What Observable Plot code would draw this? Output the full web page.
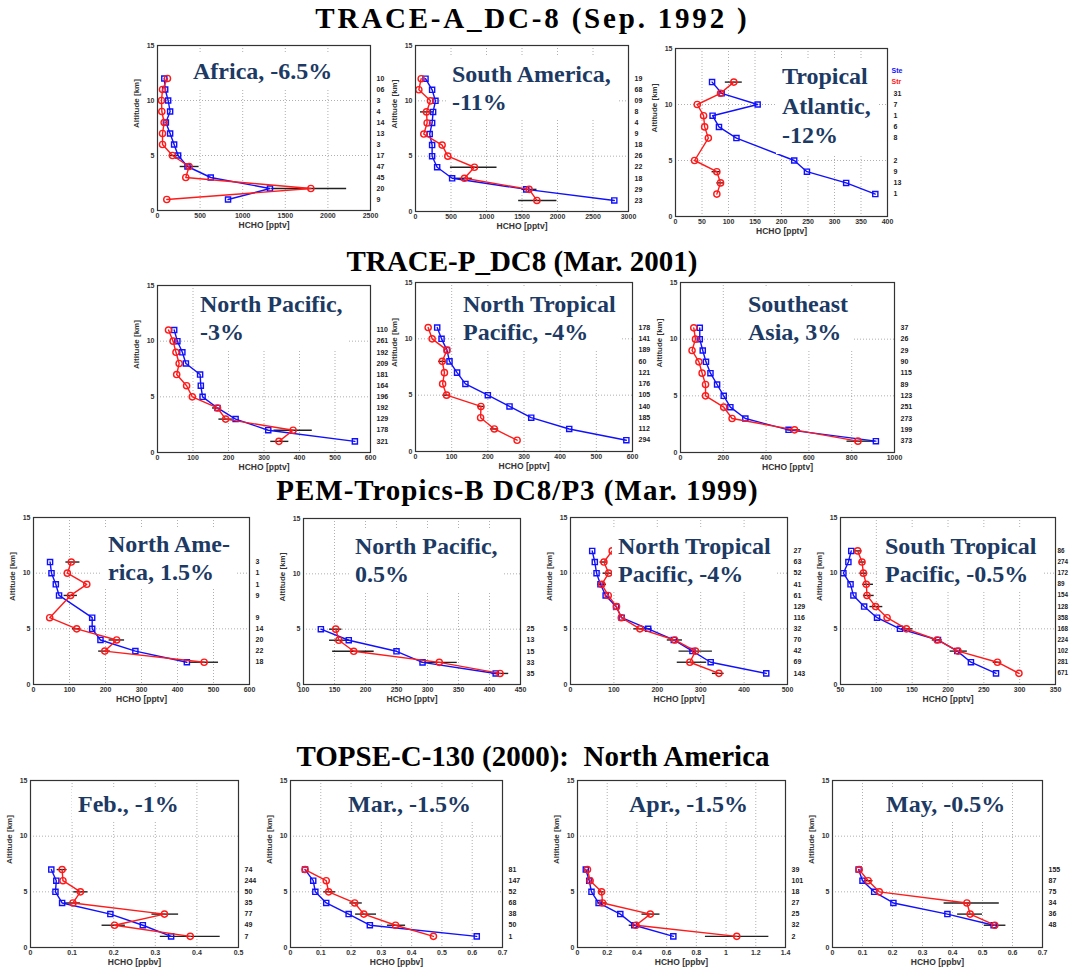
<!DOCTYPE html>
<html><head><meta charset="utf-8">
<script src="https://cdn.jsdelivr.net/npm/d3@7"></script>
<script src="https://cdn.jsdelivr.net/npm/@observablehq/plot@0.6"></script>
<style>
body{margin:0;background:#fff;overflow:hidden}
#page{position:relative;width:1069px;height:968px;overflow:hidden;background:#fff}
.panel{position:absolute}
.ttl{position:absolute;font:bold 24px/28px 'Liberation Serif','Times New Roman',serif;color:#1c3a63;background:#fff;padding:3px 6px;white-space:nowrap}
.head{position:absolute;left:0;width:1069px;text-align:center;font:bold 29px/29px 'Liberation Serif','Times New Roman',serif;color:#000;white-space:pre}
</style></head>
<body><div id="page"></div>
<script>
// ---------------- DATA ----------------
// Row 1: TRACE-A DC-8
const afAlt  = [12,11,10,9,8,7,6,5,4,3,2,1];
const afBlue = [80,90,125,148,98,148,195,242,352,625,1320,828];
const afRed  = [117,59,47,51,78,59,59,176,371,332,1800,109];
const afN    = ["10","06","3","4","14","13","3","17","47","45","20","9"];
const afErr  = [[5,137,254],[4,266,488],[2,1340,2220]];

const saAlt  = [12,11,10,9,8,7,6,5,4,3,2,1];
const saBlue = [141,234,281,248,234,200,234,234,305,516,1560,2800];
const saRed  = [80,47,211,155,164,117,375,455,830,689,1600,1710];
const saN    = ["19","68","09","8","4","9","18","26","22","18","29","23"];
const saErr  = [[9,70,258],[4,492,1148],[3,539,800],[2,1500,1711],[1,1453,1992]];

const taAlt  = [12,11,10,9,8,7,5,4,3,2];
const taBlue = [69,87,155,70,82,115,224,248,322,377];
const taRed  = [110,85,41,53,55,62,36,78,85,78];
const taNAlt = [11,10,9,8,7,5,4,3,2];
const taN    = ["31","7","1","6","8","2","9","13","1"];
const taErr  = [[12,94,126],[4,69,85],[3,78,92]];

// Row 2: TRACE-P DC8
const npAlt  = [11,10,9,8,7,6,5,4,3,2,1];
const npBlue = [47,56,70,80,120,122,127,169,220,312,556];
const npRed  = [31,44,52,61,54,82,98,169,192,382,342];
const npN    = ["110","261","192","209","181","164","196","192","129","178","321"];
const npErr  = [[4,155,173],[3,173,211],[2,328,436],[1,319,370]];

const ntAlt  = [11,10,9,8,7,6,5,4,3,2,1];
const ntBlue = [60,72,87,94,115,138,200,260,320,425,583];
const ntRed  = [35,46,87,74,80,75,86,181,180,218,281];
const ntN    = ["178","141","189","60","121","176","105","140","185","112","294"];
const ntErr  = [[8,64,83],[5,76,96],[4,172,190],[2,207,230]];

const seAlt  = [11,10,9,8,7,6,5,4,3,2,1];
const seBlue = [90,90,104,119,140,171,202,233,303,505,913];
const seRed  = [62,70,54,86,101,117,117,202,241,533,829];
const seN    = ["37","26","29","90","115","89","123","251","273","199","373"];
const seErr  = [[2,498,560],[1,778,910]];

// Row 3: PEM-Tropics-B DC8/P3
const naAlt  = [11,10,9,8,6,5,4,3,2];
const naBlue = [46,50,62,71,163,163,186,283,426];
const naRed  = [105,94,148,103,45,120,231,198,474];
const naN    = ["3","1","1","9","9","14","20","22","18"];
const naErr  = [[11,90,129],[8,85,122],[5,108,132],[4,210,253],[3,181,214],[2,436,514]];

const pnAlt  = [5,4,3,2,1];
const pnBlue = [128,173,250,292,410];
const pnRed  = [152,157,181,319,417];
const pnN    = ["25","13","15","33","35"];
const pnErr  = [[5,142,162],[4,142,175],[3,147,214],[2,291,348],[1,404,431]];

const ptAlt  = [12,11,10,9,8,7,6,5,4,3,2,1];
const ptBlue = [50,56,60,69,81,105,118,179,238,281,323,451];
const ptRed  = [96,77,88,72,87,106,117,160,240,288,275,342];
const ptN    = ["27","63","52","41","61","129","116","32","70","42","69","143"];
const ptErr  = [[11,68,85],[10,75,100],[9,63,83],[5,146,188],[4,223,258],[3,250,327],[2,246,314],[1,327,354]];

const stAlt  = [12,11,10,9,8,7,6,5,4,3,2,1];
const stBlue = [65,61,54,64,68,83,101,133,186,213,232,267];
const stRed  = [74,80,82,86,87,99,115,142,185,214,269,299];
const stN    = ["86","274","172","89","154","128","358","168","224","102","281","671"];
const stErr  = [[12,69,80],[11,76,85],[10,77,87],[9,81,96],[8,82,97],[7,91,109],[5,135,151],[4,178,192],[3,203,227],[2,263,275]];

// Row 4: TOPSE-C-130 North America
const feAlt  = [7,6,5,4,3,2,1];
const feBlue = [0.050,0.062,0.060,0.076,0.192,0.270,0.338];
const feRed  = [0.076,0.078,0.120,0.102,0.322,0.202,0.384];
const feN    = ["74","244","50","35","77","49","7"];
const feErr  = [[7,0.064,0.088],[5,0.104,0.138],[4,0.084,0.120],[3,0.292,0.356],[2,0.172,0.228],[1,0.312,0.456]];

const maAlt  = [7,6,5,4,3,2,1];
const maBlue = [0.048,0.075,0.082,0.118,0.192,0.262,0.615];
const maRed  = [0.048,0.118,0.126,0.212,0.242,0.347,0.472];
const maN    = ["81","147","52","68","38","50","1"];
const maErr  = [[5,0.110,0.149],[4,0.196,0.237],[3,0.215,0.284],[2,0.320,0.380]];

const apAlt  = [7,6,5,4,3,2,1];
const apBlue = [0.056,0.079,0.094,0.142,0.288,0.382,0.645];
const apRed  = [0.067,0.085,0.162,0.169,0.490,0.393,1.072];
const apN    = ["39","101","18","27","25","32","2"];
const apErr  = [[5,0.14,0.18],[4,0.135,0.2],[3,0.434,0.555],[2,0.348,0.420],[1,0.861,1.288]];

const myAlt  = [7,6,5,4,3,2];
const myBlue = [0.087,0.100,0.139,0.203,0.383,0.537];
const myRed  = [0.089,0.119,0.156,0.448,0.459,0.541];
const myN    = ["155","87","75","34","36","48"];
const myErr  = [[6,0.105,0.135],[4,0.372,0.556],[3,0.417,0.500],[2,0.506,0.578]];

// tick labels
const altTicks = [0,5,10,15];
const tA1 = [0,500,1000,1500,2000,2500];
const tA2 = [0,500,1000,1500,2000,2500,3000];
const tA3 = [0,50,100,150,200,250,300,350,400];
const t600 = [0,100,200,300,400,500,600];
const t1000 = [0,200,400,600,800,1000];
const t450 = [100,150,200,250,300,350,400,450];
const t500 = [0,100,200,300,400,500];
const t350 = [50,100,150,200,250,300,350];
const t05 = [0,0.1,0.2,0.3,0.4,0.5];
const t07 = [0,0.1,0.2,0.3,0.4,0.5,0.6,0.7];
const t14 = [0,0.2,0.4,0.6,0.8,1,1.2,1.4];

const headings = ["TRACE-A_DC-8 (Sep. 1992 )","TRACE-P_DC8 (Mar. 2001)","PEM-Tropics-B DC8/P3 (Mar. 1999)","TOPSE-C-130 (2000):  North America"];

// ---------------- LAYOUT ----------------
const panels = [
  {box:[157,45,370,210], alt:afAlt, blue:afBlue, red:afRed, n:afN, err:afErr, xt:tA1, xl:"HCHO [pptv]", title:"Africa, -6.5%", tpos:[193,63]},
  {box:[415,45,628,211], alt:saAlt, blue:saBlue, red:saRed, n:saN, err:saErr, xt:tA2, xl:"HCHO [pptv]", title:"South America,\n-11%", tpos:[452,66]},
  {box:[675,48,887,216], alt:taAlt, blue:taBlue, red:taRed, n:taN, nAlt:taNAlt, err:taErr, xt:tA3, xl:"HCHO [pptv]", title:"Tropical\nAtlantic,\n-12%", tpos:[782,69], lh:29.5, legend:true},
  {box:[157,285,370,452], alt:npAlt, blue:npBlue, red:npRed, n:npN, err:npErr, xt:t600, xl:"HCHO [pptv]", title:"North Pacific,\n-3%", tpos:[200,296]},
  {box:[415,282,632,451], alt:ntAlt, blue:ntBlue, red:ntRed, n:ntN, err:ntErr, xt:t600, xl:"HCHO [pptv]", title:"North Tropical\nPacific, -4%", tpos:[463,296]},
  {box:[680,282,894,452], alt:seAlt, blue:seBlue, red:seRed, n:seN, err:seErr, xt:t1000, xl:"HCHO [pptv]", title:"Southeast\nAsia, 3%", tpos:[748,296]},
  {box:[33,517,249,684], alt:naAlt, blue:naBlue, red:naRed, n:naN, err:naErr, xt:t600, xl:"HCHO [pptv]", title:"North Ame-\nrica, 1.5%", tpos:[108,536]},
  {box:[303,518,520,684], alt:pnAlt, blue:pnBlue, red:pnRed, n:pnN, err:pnErr, xt:t450, xl:"HCHO [pptv]", title:"North Pacific,\n0.5%", tpos:[355,538]},
  {box:[570,517,787,684], alt:ptAlt, blue:ptBlue, red:ptRed, n:ptN, err:ptErr, xt:t500, xl:"HCHO [pptv]", title:"North Tropical\nPacific, -4%", tpos:[618,538]},
  {box:[840,517,1055,684], alt:stAlt, blue:stBlue, red:stRed, n:stN, err:stErr, xt:t350, xl:"HCHO [pptv]", title:"South Tropical\nPacific, -0.5%", tpos:[885,538], nfs:6.3, ndx:2},
  {box:[30,780,238,947], alt:feAlt, blue:feBlue, red:feRed, n:feN, err:feErr, xt:t05, xl:"HCHO [ppbv]", title:"Feb., -1%", tpos:[78,796]},
  {box:[290,780,502,947], alt:maAlt, blue:maBlue, red:maRed, n:maN, err:maErr, xt:t07, xl:"HCHO [ppbv]", title:"Mar., -1.5%", tpos:[348,796]},
  {box:[577,780,785,947], alt:apAlt, blue:apBlue, red:apRed, n:apN, err:apErr, xt:t14, xl:"HCHO [ppbv]", title:"Apr., -1.5%", tpos:[629,796]},
  {box:[832,780,1042,947], alt:myAlt, blue:myBlue, red:myRed, n:myN, err:myErr, xt:t07, xl:"HCHO [ppbv]", title:"May, -0.5%", tpos:[886,796]}
];
const headPos = [[531,28,2.8],[522,271,0],[517,500,1],[533,766,0]];

const page = document.getElementById("page");
const BLUE = "#1010ff", RED = "#ff1a1a";

headings.forEach((h,i)=>{
  const d = document.createElement("div");
  d.className = "head";
  d.textContent = h;
  d.style.letterSpacing = headPos[i][2]+"px";
  d.style.left = (headPos[i][0]-534.5+headPos[i][2]/2)+"px";
  d.style.top = (headPos[i][1]-24)+"px";
  page.appendChild(d);
});

panels.forEach(p=>{
  const mL=36, mR=34, mT=8, mB=26;
  const w = p.box[2]-p.box[0], h = p.box[3]-p.box[1];
  const xd = [p.xt[0], p.xt[p.xt.length-1]];
  const blue = p.alt.map((a,i)=>({alt:a, v:p.blue[i]}));
  const red = p.alt.map((a,i)=>({alt:a, v:p.red[i]}));
  const nAlt = p.nAlt || p.alt;
  const lbl = nAlt.map((a,i)=>({alt:a, t:p.n[i]}));
  const err = p.err.map(e=>({alt:e[0], lo:e[1], hi:e[2]}));
  const marks = [
    Plot.gridX(p.xt, {stroke:"#9a9a9a", strokeOpacity:1, strokeDasharray:"1,2", strokeWidth:0.8}),
    Plot.gridY(altTicks, {stroke:"#9a9a9a", strokeOpacity:1, strokeDasharray:"1,2", strokeWidth:0.8}),
    Plot.axisX(p.xt, {tickSize:0, tickPadding:3, label:null, tickFormat:d=>String(d), fontSize:7, fontWeight:"bold", fill:"#333"}),
    Plot.axisY(altTicks, {tickSize:0, tickPadding:3, label:null, tickFormat:d=>String(d), fontSize:7, fontWeight:"bold", fill:"#333"}),
    Plot.text([p.xl], {text:d=>d, frameAnchor:"bottom", dy:17, fontSize:8.5, fontWeight:"bold", fill:"#333"}),
    Plot.text(["Altitude [km]"], {text:d=>d, frameAnchor:"left", dx:-21, rotate:-90, fontSize:8, fontWeight:"bold", fill:"#333"}),
    Plot.ruleY(err, {y:"alt", x1:"lo", x2:"hi", stroke:"#222", strokeWidth:1.4}),
    Plot.line(blue, {x:"v", y:"alt", stroke:BLUE, strokeWidth:1.4}),
    Plot.dot(blue, {x:"v", y:"alt", symbol:"square", r:2.9, stroke:BLUE, strokeWidth:1.4, fill:"none"}),
    Plot.line(red, {x:"v", y:"alt", stroke:RED, strokeWidth:1.4}),
    Plot.dot(red, {x:"v", y:"alt", symbol:"circle", r:3.1, stroke:RED, strokeWidth:1.4, fill:"none"}),
    Plot.text(lbl, {y:"alt", text:"t", frameAnchor:"right", dx:(p.ndx ?? 6), textAnchor:"start", fontSize:(p.nfs || 7), fontWeight:"bold", fill:"#222"}),
    Plot.frame({stroke:"#333", strokeWidth:1.2})
  ];
  if (p.legend) {
    marks.push(Plot.text([{alt:13, t:"Ste"}], {y:"alt", text:"t", frameAnchor:"right", dx:4, textAnchor:"start", fontSize:7, fontWeight:"bold", fill:BLUE}));
    marks.push(Plot.text([{alt:12, t:"Str"}], {y:"alt", text:"t", frameAnchor:"right", dx:4, textAnchor:"start", fontSize:7, fontWeight:"bold", fill:RED}));
  }
  const svg = Plot.plot({
    width: w+mL+mR, height: h+mT+mB,
    marginLeft:mL, marginRight:mR, marginTop:mT, marginBottom:mB,
    x:{domain:xd}, y:{domain:[0,15]},
    style:{fontFamily:"'Liberation Sans', Arial, sans-serif", background:"transparent", overflow:"visible"},
    marks
  });
  svg.classList.add("panel");
  svg.style.left = (p.box[0]-mL)+"px";
  svg.style.top = (p.box[1]-mT)+"px";
  page.appendChild(svg);
});

panels.forEach(p=>{
  const d = document.createElement("div");
  d.className = "ttl";
  const lines = p.title.split("\n");
  lines.forEach((l,i)=>{ if(i) d.appendChild(document.createElement("br")); d.appendChild(document.createTextNode(l)); });
  const lh = p.lh || 28;
  d.style.lineHeight = lh+"px";
  d.style.left = (p.tpos[0]-6)+"px";
  d.style.top = (p.tpos[1]-9-(lh-28)/2)+"px";
  page.appendChild(d);
});
</script>
</body></html>
